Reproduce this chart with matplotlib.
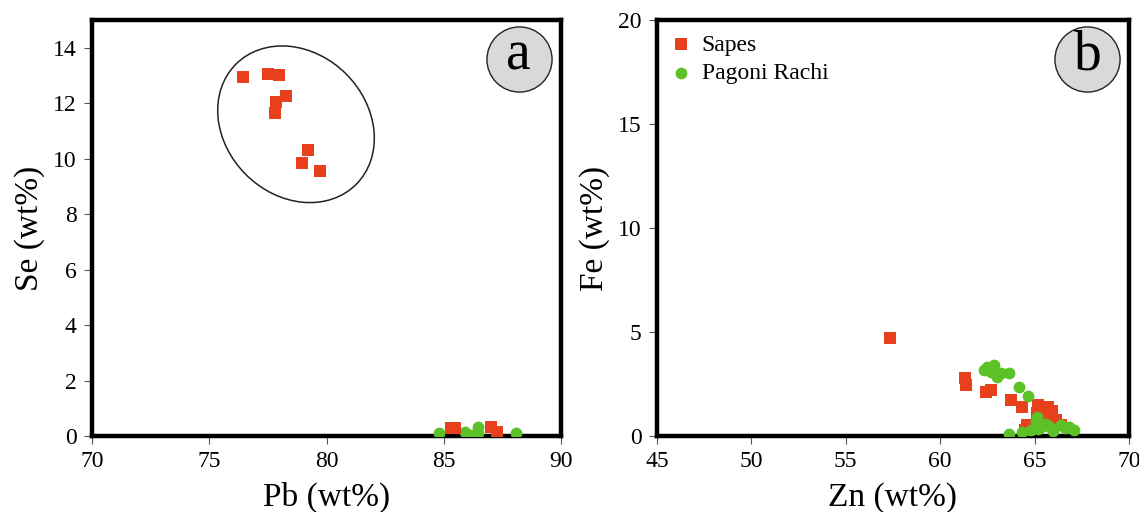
import matplotlib
matplotlib.use("Agg")
import matplotlib.pyplot as plt
from matplotlib.patches import Ellipse
from matplotlib import transforms

plt.rcParams["font.family"] = ["Liberation Serif", "DejaVu Serif"]

# ---- panel (a): Se vs Pb ----
sapes_pb = [76.45, 77.52, 77.97, 78.27, 77.85, 77.80, 79.22, 78.97, 79.72,
            85.33, 85.50, 87.00, 87.28]
sapes_se = [12.95, 13.05, 13.01, 12.25, 12.05, 11.65, 10.33, 9.86, 9.56,
            0.30, 0.30, 0.34, 0.16]
pagoni_pb = [84.81, 85.90, 86.47, 86.47, 88.10, 86.2]
pagoni_se = [0.10, 0.15, 0.34, 0.12, 0.10, 0.05]

# ---- panel (b): Fe vs Zn ----
sapes_zn = [57.36, 61.29, 61.35, 62.40, 62.67, 63.77, 64.31, 65.18, 65.71,
            65.68, 66.11, 64.61, 65.14, 64.50, 66.40, 65.90]
sapes_fe = [4.71, 2.80, 2.45, 2.13, 2.20, 1.73, 1.38, 1.49, 1.41,
            1.01, 0.77, 0.53, 1.10, 0.30, 0.55, 1.20]
pagoni_zn = [62.49, 62.84, 63.20, 63.64, 63.02, 62.30, 62.70, 64.20, 64.65,
             65.14, 65.05, 65.32, 65.80, 66.38, 66.82, 67.07, 63.64, 64.35,
             64.79, 66.00, 65.60, 65.20, 66.60]
pagoni_fe = [3.34, 3.42, 3.02, 3.02, 2.86, 3.18, 3.10, 2.35, 1.90,
             0.93, 0.69, 0.45, 0.45, 0.53, 0.45, 0.29, 0.10, 0.20,
             0.30, 0.25, 0.60, 0.35, 0.40]

red = "#e8401c"
green = "#5cc126"

fig = plt.figure(figsize=(11.39, 5.12), dpi=100)
ax1 = fig.add_axes([92 / 1139, 76 / 512, 469 / 1139, 416 / 512])
ax2 = fig.add_axes([657 / 1139, 76 / 512, 472 / 1139, 416 / 512])

sq = 78   # square marker area (pt^2)
ci = 72   # circle marker area (pt^2)

ax1.scatter(pagoni_pb, pagoni_se, s=ci, marker="o", color=green, linewidths=0, zorder=3)
ax1.scatter(sapes_pb, sapes_se, s=sq, marker="s", color=red, linewidths=0, zorder=4)

ax2.scatter(sapes_zn, sapes_fe, s=sq, marker="s", color=red, linewidths=0,
            zorder=3, label="Sapes")
ax2.scatter(pagoni_zn, pagoni_fe, s=ci, marker="o", color=green, linewidths=0,
            zorder=4, label="Pagoni Rachi")

ax1.set_xlim(70, 90)
ax1.set_ylim(0, 15)
ax1.set_xticks([70, 75, 80, 85, 90])
ax1.set_yticks([0, 2, 4, 6, 8, 10, 12, 14])
ax1.set_xlabel("Pb (wt%)", fontsize=24, labelpad=7)
ax1.set_ylabel("Se (wt%)", fontsize=24, labelpad=6)

ax2.set_xlim(45, 70)
ax2.set_ylim(0, 20)
ax2.set_xticks([45, 50, 55, 60, 65, 70])
ax2.set_yticks([0, 5, 10, 15, 20])
ax2.set_xlabel("Zn (wt%)", fontsize=24, labelpad=7)
ax2.set_ylabel("Fe (wt%)", fontsize=24, labelpad=6)

for ax in (ax1, ax2):
    for sp in ax.spines.values():
        sp.set_linewidth(3.2)
        sp.set_color("black")
    ax.tick_params(direction="out", length=6, width=0.8, color="#555555",
                   labelsize=17, pad=5)

# Cluster outline around the high-Se Sapes grains
ell_trans = fig.dpi_scale_trans + transforms.ScaledTranslation(78.7, 11.24, ax1.transData)
ax1.add_patch(Ellipse((0, 0), width=1.70, height=1.42, angle=-45,
                      transform=ell_trans, fill=False, edgecolor="#222222",
                      linewidth=1.1, zorder=2))

# Circled panel letters
for ax, letter, cx in ((ax1, "a", 0.91), (ax2, "b", 0.912)):
    ax.scatter([cx], [0.907], s=2200, marker="o", facecolor="#d9d9d9",
               edgecolor="#222222", linewidths=1.0, transform=ax.transAxes,
               clip_on=False, zorder=5)
    ax.text(cx, 0.915, letter, transform=ax.transAxes, ha="center", va="center",
            fontsize=40, zorder=6)

ax2.legend(loc="upper left", frameon=False, fontsize=17, handlelength=0.8,
           handletextpad=0.5, labelspacing=0.3, borderaxespad=0.4,
           borderpad=0.2, markerscale=1.0)

fig.savefig("out.png", dpi=100, facecolor="white")
